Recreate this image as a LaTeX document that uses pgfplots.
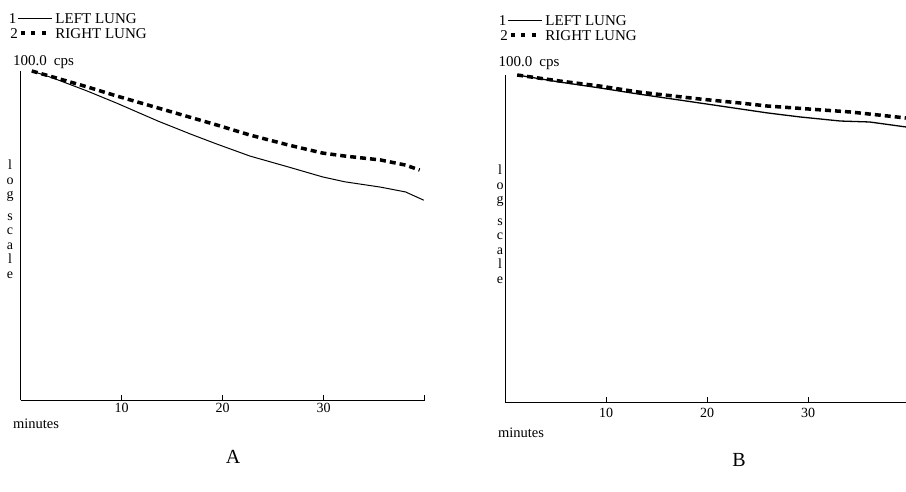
\documentclass[border=0pt]{standalone}
\usepackage{fontspec}
\setmainfont{Liberation Serif}
\usepackage{pgfplots}
\pgfplotsset{compat=1.18}

\begin{document}
\begin{tikzpicture}[x=1pt,y=1pt]

% panel A
\begin{axis}[
    at={(20.7pt,91pt)}, anchor=south west,
    scale only axis, width=404pt, height=329pt,
    xmin=0, xmax=40,
    ymode=log, ymin=1, ymax=100,
    axis x line*=bottom, axis y line*=left,
    xtick={10,20,30,40}, xticklabels={10,20,30,{}},
    ytick=\empty, yminorticks=false, xminorticks=false,
    tick align=inside, major tick length=5pt,
    axis line style={line width=1pt, black},
    tick style={line width=1pt, black},
    xticklabel style={font=\fontsize{14}{14}\selectfont, inner sep=0pt, yshift=-3pt},
    clip=false,
    legend cell align=left,
    legend style={at={(axis description cs:-0.029,1.176)}, anchor=north west,
      draw=none, fill=none, inner sep=0pt, outer sep=0pt,
      row sep=5pt, column sep=3pt,
      font=\fontsize{15}{15}\selectfont,
      nodes={inner sep=0pt, text height=10pt, text depth=0pt}},
]
  \addplot[black, line width=1pt,
    legend image code/.code={
      \node[anchor=east] at (-1.5pt,0pt) {1};
      \draw[black, line width=1pt] (0pt,0pt) -- (34pt,0pt);}] coordinates {
    (1.1,100) (3.2,90.6) (6.6,75.5) (9.5,63.8) (13.6,49.6) (16.8,41.4)
    (19.4,36.0) (22.7,30.4) (26.5,26.1) (29.9,22.7) (32.1,21.2)
    (35.6,19.7) (38.1,18.4) (39.9,16.4)
  };
  \addlegendentry{LEFT LUNG}
  \addplot[black, line width=3.5pt, dash pattern=on 6pt off 4pt,
    legend image code/.code={
      \node[anchor=east] at (0pt,0pt) {2};
      \draw[black, line width=4pt, dash pattern=on 4pt off 6.5pt] (3pt,0pt) -- (29pt,0pt);}] coordinates {
    (1.1,100) (3.2,91.9) (6.6,80.0) (9.5,70.5) (13.6,59.6) (19.4,47.0)
    (22.7,40.8) (26.5,35.5) (29.9,31.7) (32.1,30.4) (35.6,28.8)
    (38.1,26.8) (39.5,25.0)
  };
  \addlegendentry{RIGHT LUNG}
\end{axis}

% panel B
\begin{axis}[
    at={(505pt,89pt)}, anchor=south west,
    scale only axis, width=404pt, height=327pt,
    xmin=0, xmax=40,
    ymode=log, ymin=1, ymax=100,
    axis x line*=bottom, axis y line*=left,
    xtick={10,20,30,40}, xticklabels={10,20,30,{}},
    ytick=\empty, yminorticks=false, xminorticks=false,
    tick align=inside, major tick length=5pt,
    axis line style={line width=1pt, black},
    tick style={line width=1pt, black},
    xticklabel style={font=\fontsize{14}{14}\selectfont, inner sep=0pt, yshift=-6pt},
    clip=false,
    legend cell align=left,
    legend style={at={(axis description cs:-0.015,1.183)}, anchor=north west,
      draw=none, fill=none, inner sep=0pt, outer sep=0pt,
      row sep=5pt, column sep=3pt,
      font=\fontsize{15}{15}\selectfont,
      nodes={inner sep=0pt, text height=10pt, text depth=0pt}},
]
  \addplot[black, line width=1.3pt,
    legend image code/.code={
      \node[anchor=east] at (-1.5pt,0pt) {1};
      \draw[black, line width=1pt] (0pt,0pt) -- (34pt,0pt);}] coordinates {
    (1.2,100) (5.4,90.6) (9.4,83.3) (13.2,76.5) (19.3,67.4) (23.3,62.0)
    (26.0,58.6) (29.2,55.4) (33.2,52.3) (36.1,51.6) (39.7,48.1)
  };
  \addlegendentry{LEFT LUNG}
  \addplot[black, line width=3.5pt, dash pattern=on 6pt off 4pt,
    legend image code/.code={
      \node[anchor=east] at (0pt,0pt) {2};
      \draw[black, line width=4pt, dash pattern=on 4pt off 6.5pt] (3pt,0pt) -- (29pt,0pt);}] coordinates {
    (1.2,100) (5.4,91.9) (9.4,85.6) (13.2,78.7) (19.3,71.3) (23.3,67.4)
    (26.0,64.6) (30.0,62.0) (34.2,59.4) (39.7,54.6)
  };
  \addlegendentry{RIGHT LUNG}
\end{axis}

% texts round the axes
\node[inner sep=0pt, font=\fontsize{15}{15}\selectfont] at (43.5,429) {100.0\hspace{7pt}cps};
\node[inner sep=0pt, font=\fontsize{15}{15}\selectfont] at (529,428) {100.0\hspace{7pt}cps};
\node[inner sep=0pt, align=center, font=\fontsize{14}{14.5}\selectfont] at (10,272) {l\\o\\g\\[7pt]s\\c\\a\\l\\e};
\node[inner sep=0pt, align=center, font=\fontsize{14}{14.5}\selectfont] at (500,267) {l\\o\\g\\[7pt]s\\c\\a\\l\\e};
\node[inner sep=0pt, font=\fontsize{14.5}{14.5}\selectfont] at (36,67) {minutes};
\node[inner sep=0pt, font=\fontsize{14.5}{14.5}\selectfont] at (521,58) {minutes};
\node[inner sep=0pt, font=\fontsize{20}{20}\selectfont] at (233,34) {A};
\node[inner sep=0pt, font=\fontsize{20}{20}\selectfont] at (739,31) {B};

\pgfresetboundingbox
\path[use as bounding box] (0,0) rectangle (906,491);
\end{tikzpicture}
\end{document}
